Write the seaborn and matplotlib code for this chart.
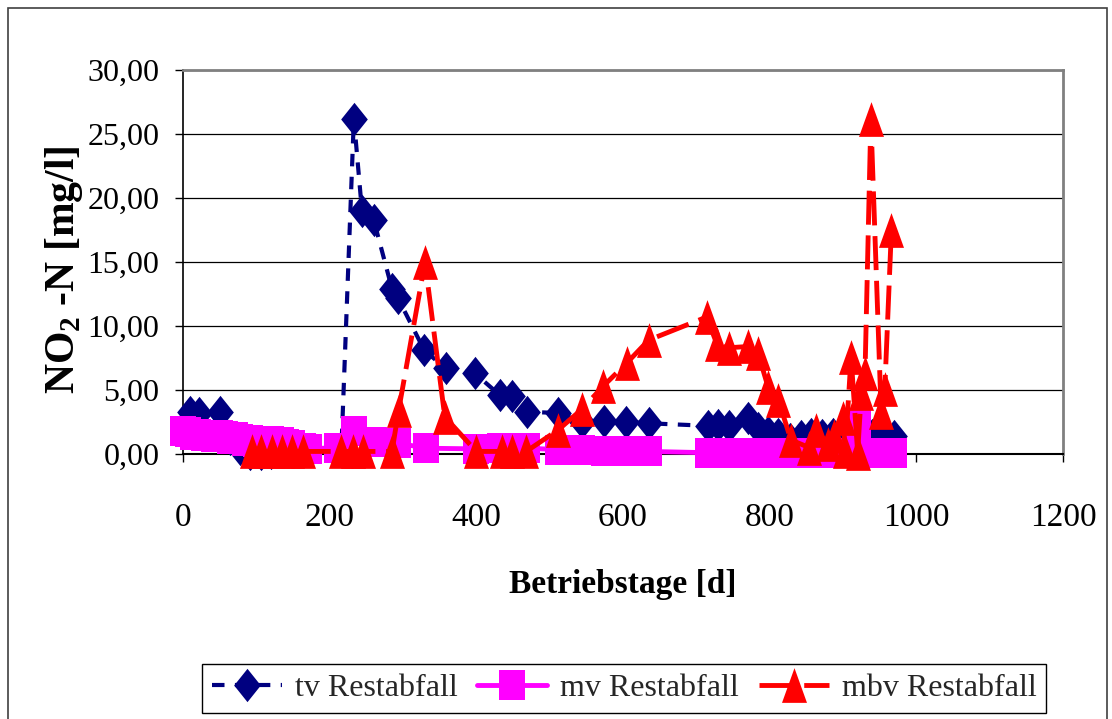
import matplotlib
matplotlib.use("Agg")
import matplotlib.pyplot as plt
from matplotlib.patches import Rectangle
from matplotlib.ticker import FuncFormatter
import seaborn as sns

# ---------------- data ----------------
tv_days = [10, 22, 50, 64, 78, 92, 106, 120, 150, 163, 216, 233, 244, 260, 285, 293, 329, 358, 398, 432,
           448, 469, 512, 544, 574, 604, 635, 716, 730, 744, 770, 784, 798, 812, 828, 843, 857, 872, 886, 900,
           922, 940, 950, 960, 969]
tv_vals = [3.3, 3.2, 3.3, 1.2, 0.4, 0.0, 0.0, 0.1, 0.2, 0.4, 0.4, 26.2, 19.0, 18.3, 12.9, 12.2, 8.1, 6.7, 6.3, 4.6,
           4.5, 3.3, 3.2, 2.5, 2.6, 2.5, 2.4, 2.2, 2.3, 2.2, 2.8, 2.0, 1.7, 1.6, 1.2, 1.4, 1.6, 1.5, 1.6, 1.8,
           2.4, 1.5, 1.4, 1.4, 1.4]

mv_days = [0, 7, 14, 21, 28, 35, 42, 50, 57, 64, 71, 78, 85, 92, 99, 106, 113, 120, 127, 134,
           141, 148, 155, 163, 172, 210, 233, 261, 293, 332, 400, 432, 448, 469, 512, 544, 574, 604, 635,
           716, 730, 744, 771, 784, 798, 812, 828, 843, 857, 872, 886, 900, 920, 940, 950, 960, 969]
mv_vals = [1.8, 1.7, 1.5, 1.6, 1.4, 1.5, 1.3, 1.5, 1.4, 1.2, 1.3, 1.2, 1.0, 1.1, 0.9, 1.0, 0.9, 1.0, 0.8, 0.9,
           0.8, 0.7, 0.5, 0.5, 0.4, 0.5, 1.8, 0.9, 0.85, 0.45, 0.4, 0.45, 0.5, 0.45, 0.35, 0.3, 0.25, 0.25, 0.2,
           0.1, 0.1, 0.1, 0.1, 0.1, 0.1, 0.1, 0.1, 0.1, 0.1, 0.1, 0.1, 0.1, 2.4, 0.1, 0.1, 0.1, 0.1]

mbv_days = [94, 107, 121, 135, 148, 164, 216, 232, 246, 285, 294, 330, 357, 400, 435, 448, 468, 512, 544, 573,
            605, 635, 714, 728, 744, 771, 784, 798, 812, 829, 854, 863, 879, 888, 900, 903, 911, 920, 925, 930,
            938, 952, 957, 966]
mbv_vals = [0.2, 0.2, 0.2, 0.2, 0.2, 0.2, 0.2, 0.2, 0.2, 0.2, 3.4, 15.0, 2.9, 0.2, 0.2, 0.2, 0.2, 1.9, 3.5, 5.3,
            7.1, 8.9, 10.7, 8.6, 8.3, 8.4, 7.9, 5.2, 4.2, 1.1, 0.5, 1.9, 0.8, 1.4, 2.8, 0.2, 7.6, 0.1, 4.8, 6.3,
            26.2, 3.3, 5.1, 17.5]

series_labels = ["tv Restabfall", "mv Restabfall", "mbv Restabfall"]
x_ticks = [0, 200, 400, 600, 800, 1000, 1200]
y_ticks = [0, 5, 10, 15, 20, 25, 30]
x_label = "Betriebstage [d]"
y_label = r"NO$_{\mathbf{2}}$ -N [mg/l]"

# ---------------- style ----------------
sns.set_style("white")
plt.rcParams['font.family'] = ['Liberation Serif', 'DejaVu Serif']
plt.rcParams['mathtext.fontset'] = 'custom'
plt.rcParams['mathtext.rm'] = 'Liberation Serif'
plt.rcParams['mathtext.bf'] = 'Liberation Serif:bold'

W, H = 1112, 719
fig = plt.figure(figsize=(W / 100, H / 100), dpi=100)
fig.patch.set_facecolor('white')
ax = fig.add_axes([183 / W, 1 - 454 / H, 880 / W, 384 / H])

diamond = [(0, 1), (0.8, 0), (0, -1), (-0.8, 0), (0, 1)]
square = [(-0.84, -1), (0.84, -1), (0.84, 1), (-0.84, 1), (-0.84, -1)]
triangle = [(0, 1), (0.72, -1), (-0.72, -1), (0, 1)]

sns.lineplot(x=tv_days, y=tv_vals, ax=ax, color='#000080', marker=diamond, markersize=24,
             markeredgewidth=0, linestyle=(0, (3, 2.5)), linewidth=3, label=series_labels[0],
             clip_on=False, zorder=3)
sns.lineplot(x=mv_days, y=mv_vals, ax=ax, color='#FF00FF', marker=square, markersize=22,
             markeredgewidth=0, linestyle='-', linewidth=3.5, label=series_labels[1],
             clip_on=False, zorder=4)
sns.lineplot(x=mbv_days, y=mbv_vals, ax=ax, color='#FF0000', marker=triangle, markersize=25,
             markeredgewidth=0, linestyle=(0, (7, 2.2)), linewidth=3.5, label=series_labels[2],
             clip_on=False, zorder=5)

ax.set_xlim(0, 1200)
ax.set_ylim(0, 30)
ax.set_xticks(x_ticks)
ax.set_yticks(y_ticks)
ax.yaxis.set_major_formatter(FuncFormatter(lambda v, p: f"{v:.2f}".replace('.', ',')))

ax.set_facecolor('white')
ax.yaxis.grid(True, color='black', linewidth=0.9)
ax.xaxis.grid(False)
ax.set_axisbelow(True)

for s in ['top', 'right']:
    ax.spines[s].set_color('#808080')
    ax.spines[s].set_linewidth(2)
ax.spines['left'].set_color('black')
ax.spines['left'].set_linewidth(1.2)
ax.spines['bottom'].set_color('black')
ax.spines['bottom'].set_linewidth(1.5)

ax.tick_params(axis='both', which='major', direction='out', length=6, width=1, color='black',
               bottom=True, left=True, labelcolor='black')
ax.tick_params(axis='x', labelsize=24, pad=29)
ax.tick_params(axis='y', labelsize=23, pad=11)

ax.set_xlabel(x_label, fontsize=24, fontweight='bold', color='black')
ax.xaxis.label.set_va('center')
ax.xaxis.set_label_coords(0.5, (454 - 585) / 384)
ax.set_ylabel(y_label, fontsize=30, fontweight='bold', color='black')
ax.yaxis.label.set_va('center')
ax.yaxis.set_label_coords((64 - 183) / 880, (454 - 270) / 384)

handles, labels = ax.get_legend_handles_labels()
leg = ax.legend(handles, labels, loc='lower left',
                bbox_to_anchor=(202 / W, 1 - 713 / H, 844 / W, 56 / H),
                bbox_transform=fig.transFigure, mode='expand', ncol=3,
                frameon=True, fancybox=False, shadow=False, edgecolor='black',
                fontsize=23, handlelength=2.2, handletextpad=0.4, columnspacing=0.5,
                borderaxespad=0, borderpad=0.3, framealpha=1)
leg.get_frame().set_linewidth(1.0)

fig.add_artist(Rectangle((8 / W, -0.05), (1107 - 8) / W, 1 - 8 / H + 0.05,
                         transform=fig.transFigure, fill=False, edgecolor='#404040', linewidth=1.2))

fig.savefig("out.png", dpi=100, facecolor='white')
